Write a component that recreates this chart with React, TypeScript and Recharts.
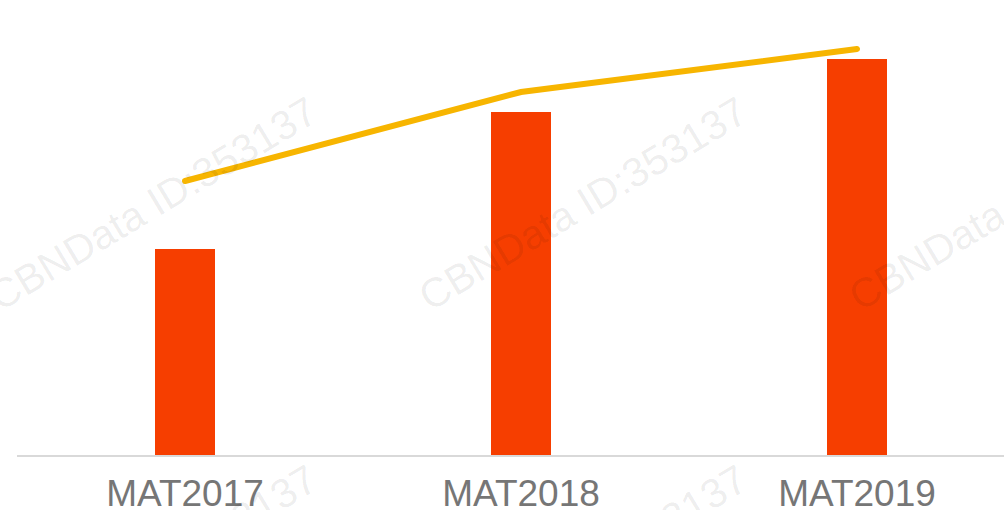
import { ComposedChart, Bar, Line, XAxis, YAxis } from "recharts";

const periods = ["MAT2017", "MAT2018", "MAT2019"];
const barValues = [207, 344, 397];
const lineValues = [275, 364, 407];

const data = periods.map((p, i) => ({ period: p, bar: barValues[i], line: lineValues[i] }));

// faint rotated watermark grid
const marks = [
  { x: 0, y: 312 },
  { x: 430, y: 312 },
  { x: 860, y: 312 },
  { x: 0, y: 680 },
  { x: 430, y: 680 },
  { x: 860, y: 680 },
];

const Tick = (props: any) => {
  const { x, y, payload } = props;
  return (
    <text
      x={x}
      y={y + 50}
      textAnchor="middle"
      fill="#767676"
      fontSize={37}
      fontFamily="'Liberation Sans', Arial, sans-serif"
    >
      {payload.value}
    </text>
  );
};

const App = () => {
  return (
    <div style={{ position: "absolute", left: 0, top: 0, width: 1004, height: 510, overflow: "hidden", background: "#fff" }}>
      <ComposedChart width={1025} height={510} data={data} margin={{ top: 16, right: 0, bottom: 24, left: 17 }}>
        <XAxis
          dataKey="period"
          height={30}
          axisLine={{ stroke: "#d9d9d9", strokeWidth: 2 }}
          tickLine={false}
          tickSize={0}
          tickMargin={0}
          tick={<Tick />}
          interval={0}
        />
        <YAxis hide domain={[0, 440]} />
        <Bar dataKey="bar" fill="#F63E00" barSize={60} isAnimationActive={false} />
        <Line
          type="linear"
          dataKey="line"
          stroke="#F7B500"
          strokeWidth={6}
          strokeLinecap="round"
          dot={false}
          isAnimationActive={false}
        />
      </ComposedChart>
      <svg width={1004} height={510} style={{ position: "absolute", left: 0, top: 0, pointerEvents: "none" }}>
        {marks.map((m, i) => (
          <text
            key={i}
            x={m.x}
            y={m.y}
            transform={`rotate(-31 ${m.x} ${m.y})`}
            fontSize={41}
            fontFamily="'Liberation Sans', Arial, sans-serif"
            fill="#000"
            fillOpacity={0.08}
          >
            CBNData ID:353137
          </text>
        ))}
      </svg>
    </div>
  );
};

export default App;
